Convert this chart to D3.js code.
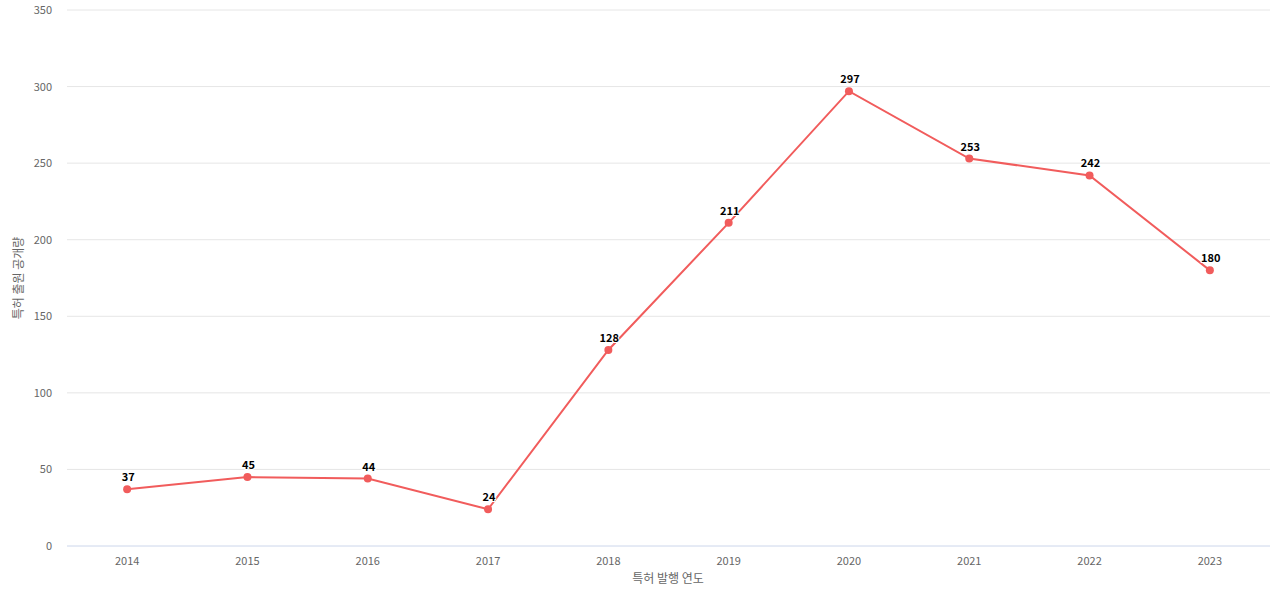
<!DOCTYPE html><html><head><meta charset="utf-8"><script src="https://cdn.jsdelivr.net/npm/d3@7"></script>
<style>body{margin:0;background:#fff;font-family:"Noto Sans CJK KR","Noto Sans",sans-serif}</style></head><body><svg id="c" width="1280" height="600"></svg>
<script>
const years=["2014","2015","2016","2017","2018","2019","2020","2021","2022","2023"];
const values=[37,45,44,24,128,211,297,253,242,180];
const yTicks=[0,50,100,150,200,250,300,350];
const svg=d3.select("#c");
const x=d3.scaleBand().domain(years).range([67,1270]);
const y=d3.scaleLinear().domain([0,350]).range([546,10]);
const cx=d=>x(d)+x.bandwidth()/2;
svg.selectAll(".g").data(yTicks).enter().append("line").attr("x1",67).attr("x2",1270).attr("y1",d=>y(d)).attr("y2",d=>y(d)).attr("stroke",d=>d===0?"#ccd6eb":"#e6e6e6");
svg.selectAll(".yt").data(yTicks).enter().append("text").attr("x",52).attr("y",d=>y(d)+4).attr("text-anchor","end").attr("font-size",11).attr("fill","#666").text(d=>d);
svg.selectAll(".xt").data(years).enter().append("text").attr("x",cx).attr("y",565).attr("text-anchor","middle").attr("font-size",11).attr("fill","#666").text(d=>d);
svg.append("text").attr("x",668).attr("y",583).attr("text-anchor","middle").attr("font-size",12).attr("fill","#666").text("특허 발행 연도");
svg.append("text").attr("transform","translate(23,278) rotate(-90)").attr("text-anchor","middle").attr("font-size",12).attr("fill","#666").text("특허 출원 공개량");
const line=d3.line().x((d,i)=>cx(years[i])).y(d=>y(d));
svg.append("path").datum(values).attr("d",line).attr("fill","none").attr("stroke","#f15c5c").attr("stroke-width",2);
svg.selectAll(".p").data(values).enter().append("circle").attr("cx",(d,i)=>cx(years[i])).attr("cy",d=>y(d)).attr("r",4).attr("fill","#f15c5c");
svg.selectAll(".l").data(values).enter().append("text").attr("x",(d,i)=>cx(years[i])+1).attr("y",d=>y(d)-8).attr("text-anchor","middle").attr("font-size",11).attr("font-weight","bold").attr("fill","#000").attr("stroke","#fff").attr("stroke-width",2).attr("paint-order","stroke").text(d=>d);
</script></body></html>
